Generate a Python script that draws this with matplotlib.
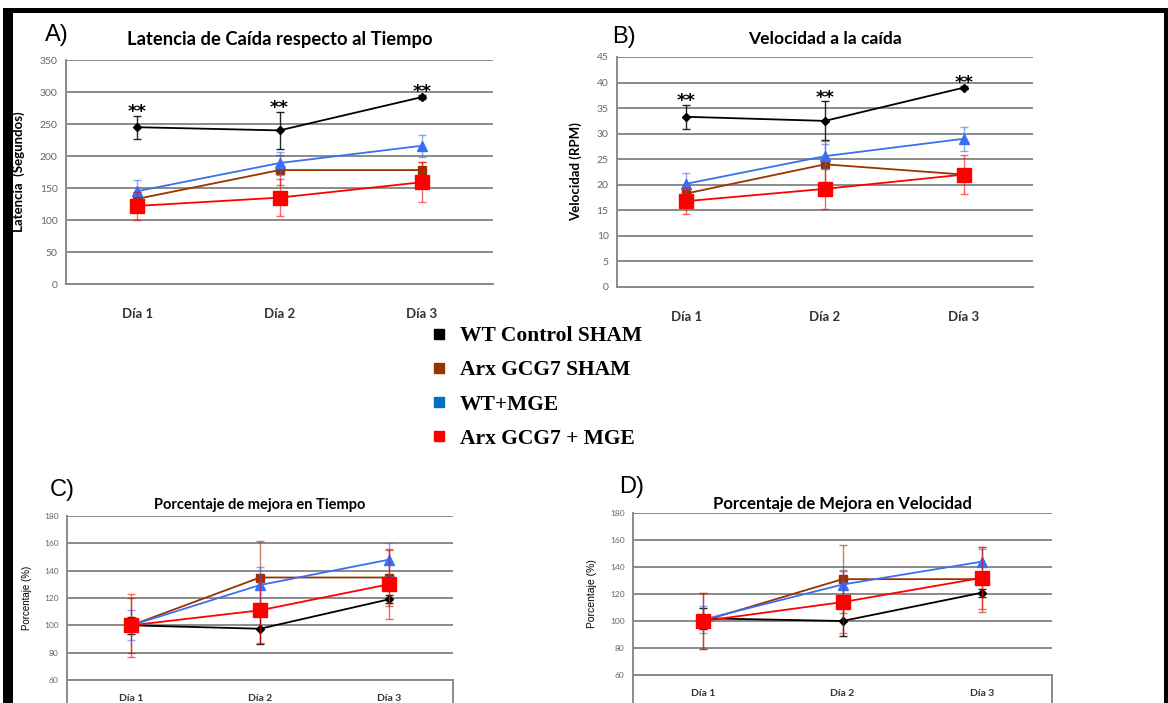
import matplotlib
matplotlib.use("Agg")
import matplotlib.pyplot as plt
from matplotlib.colors import to_rgba
from matplotlib.lines import Line2D
from matplotlib.patches import Rectangle

W, H = 1168, 703

days = ['Día 1', 'Día 2', 'Día 3']
groups = ['WT Control SHAM', 'Arx GCG7 SHAM', 'WT+MGE', 'Arx GCG7 + MGE']

# A) latency (s)
lat_wt = [245, 240, 292]
lat_wt_err = [18, 29, 3]
lat_arx = [133, 178, 178]
lat_arx_err = [10, 23, 12]
lat_wtmge = [145, 189, 216]
lat_wtmge_err = [17, 18, 17]
lat_arxmge = [122, 135, 159]
lat_arxmge_err = [22, 29, 31]

# B) speed (RPM)
vel_wt = [33.3, 32.5, 39.0]
vel_wt_err = [2.4, 3.8, 0.3]
vel_arx = [18.3, 24.0, 22.0]
vel_arx_err = [1.5, 4.6, 1.0]
vel_wtmge = [20.2, 25.6, 29.0]
vel_wtmge_err = [2.1, 2.4, 2.3]
vel_arxmge = [16.8, 19.2, 22.0]
vel_arxmge_err = [2.5, 3.9, 3.9]

# C) % improvement, time
pt_wt = [100, 97.5, 119]
pt_wt_err = [6, 11, 3]
pt_arx = [100, 135, 135]
pt_arx_err = [20, 27, 21]
pt_wtmge = [100, 129.5, 148]
pt_wtmge_err = [11, 13, 12]
pt_arxmge = [100, 111, 130]
pt_arxmge_err = [23, 24, 25]

# D) % improvement, speed
pv_wt = [102, 100, 121]
pv_wt_err = [8, 11, 3]
pv_arx = [100, 131, 131]
pv_arx_err = [21, 25, 24]
pv_wtmge = [101, 127, 144]
pv_wtmge_err = [10, 11, 9]
pv_arxmge = [100, 114, 132]
pv_arxmge_err = [21, 23, 23]

colors = ['#000000', '#993300', '#3a6ff5', '#ff0000']
legend_colors = ['#000000', '#993300', '#0070c0', '#ff0000']
markers = ['D', 's', '^', 's']
msizes = [4.5, 6, 7, 9.5]

SANS = ['Lato', 'DejaVu Sans']

fig = plt.figure(figsize=(W / 100, H / 100), dpi=100)
fig.patch.set_facecolor('white')


def px_axes(x0, y0, x1, y1):
    return fig.add_axes([x0 / W, 1 - y1 / H, (x1 - x0) / W, (y1 - y0) / H])


def panel(ax, series, errs, ylim, step, title, ylabel, sizes, stars=None):
    tick_fs, cat_fs, title_fs, lab_fs, cat_pad, title_pad = sizes
    x = list(range(len(days)))
    for i, (vals, err) in enumerate(zip(series, errs)):
        ecol = to_rgba(colors[i], 0.85 if i == 0 else 0.6)
        ax.errorbar(x, vals, yerr=err, color=colors[i], ecolor=ecol,
                    elinewidth=1.0, capsize=3, capthick=1.0,
                    marker=markers[i], markersize=msizes[i], lw=1.3, zorder=3 + i)
    if stars is not None:
        vals, err = stars
        for i in x:
            ax.annotate('**', xy=(i, vals[i] + err[i]), xytext=(0, -4),
                        textcoords='offset points', ha='center', va='bottom',
                        fontsize=13, fontweight='bold', family='DejaVu Sans')
    ax.set_xlim(-0.5, 2.5)
    ax.set_ylim(*ylim)
    ax.set_yticks(range(ylim[0], ylim[1] + 1, step))
    ax.set_xticks(x)
    ax.set_xticklabels(days, fontsize=cat_fs, fontweight='bold', color='#333333', family=SANS)
    ax.tick_params(axis='x', length=0, pad=cat_pad)
    ax.tick_params(axis='y', length=0, pad=6, labelsize=tick_fs, labelcolor='#666666')
    for lbl in ax.get_yticklabels():
        lbl.set_family(SANS)
    ax.grid(axis='y', color='#8a8a8a', lw=1.4)
    ax.set_axisbelow(True)
    for s in ['top', 'right']:
        ax.spines[s].set_visible(False)
    for s in ['left', 'bottom']:
        ax.spines[s].set_color('#8a8a8a')
        ax.spines[s].set_linewidth(1.4)
    ax.set_title(title, fontsize=title_fs, fontweight='bold', family=SANS, pad=title_pad)
    ax.set_ylabel(ylabel, fontsize=lab_fs, fontweight='bold', family=SANS)
    ax.set_facecolor('white')


# panel A
axA = px_axes(66, 60, 493, 284)
panel(axA, [lat_wt, lat_arx, lat_wtmge, lat_arxmge],
      [lat_wt_err, lat_arx_err, lat_wtmge_err, lat_arxmge_err],
      (0, 350), 50, 'Latencia de Caída respecto al Tiempo', 'Latencia  (Segundos)',
      (7.5, 9.5, 13.2, 9.5, 17, 11), stars=(lat_wt, lat_wt_err))
axA.yaxis.set_label_coords(-0.095, 0.5)

# panel B
axB = px_axes(617, 57, 1033, 287)
panel(axB, [vel_wt, vel_arx, vel_wtmge, vel_arxmge],
      [vel_wt_err, vel_arx_err, vel_wtmge_err, vel_arxmge_err],
      (0, 45), 5, 'Velocidad a la caída', 'Velocidad (RPM)',
      (7.5, 9.5, 12.6, 9.5, 17, 9), stars=(vel_wt, vel_wt_err))
axB.yaxis.set_label_coords(-0.085, 0.5)

# panel C
axC = px_axes(67, 516, 453, 680)
panel(axC, [pt_wt, pt_arx, pt_wtmge, pt_arxmge],
      [pt_wt_err, pt_arx_err, pt_wtmge_err, pt_arxmge_err],
      (60, 180), 20, 'Porcentaje de mejora en Tiempo', 'Porcentaje (%)',
      (6, 7.5, 10.5, 7, 10, 5))
axC.yaxis.set_label_coords(-0.09, 0.5)

# panel D
axD = px_axes(633, 513, 1052, 675)
panel(axD, [pv_wt, pv_arx, pv_wtmge, pv_arxmge],
      [pv_wt_err, pv_arx_err, pv_wtmge_err, pv_arxmge_err],
      (60, 180), 20, 'Porcentaje de Mejora en Velocidad', 'Porcentaje (%)',
      (6, 7.5, 12, 7.5, 10, 3))
axD.yaxis.set_label_coords(-0.085, 0.5)

for ax in (axC, axD):
    ax.yaxis.label.set_fontweight('normal')
    ax.yaxis.label.set_family(['Liberation Sans Narrow', 'Liberation Sans'])
    # box under the plot holding the day labels, cut off by the image edge
    ax.plot([0, 0], [0, -0.3], transform=ax.transAxes, clip_on=False, color='#8a8a8a', lw=1.4)
    ax.plot([1, 1], [0, -0.3], transform=ax.transAxes, clip_on=False, color='#8a8a8a', lw=1.4)

# panel letters
for txt, x, y in [('A)', 45, 35), ('B)', 612, 37), ('C)', 50, 490), ('D)', 619, 487)]:
    fig.text(x / W, 1 - y / H, txt, fontsize=17, family='Liberation Sans', va='center', ha='left')

# legend
handles = [Line2D([], [], marker='s', linestyle='none', markersize=7.5, color=c)
           for c in legend_colors]
fig.legend(handles, groups, loc='upper left', bbox_to_anchor=(428 / W, 1 - 326 / H),
           frameon=False, borderpad=0, handlelength=1.0, handletextpad=0.49,
           labelspacing=0.66, borderaxespad=0,
           prop={'family': 'Liberation Serif', 'weight': 'bold', 'size': 15.5})

# black frame around the composite figure
for (x0, y0, x1, y1) in [(3, 8, 1168, 13), (3, 8, 13, 703), (1164, 8, 1168, 703)]:
    fig.add_artist(Rectangle((x0 / W, 1 - y1 / H), (x1 - x0) / W, (y1 - y0) / H,
                             transform=fig.transFigure, color='black', lw=0))

fig.savefig('out.png', dpi=100)
